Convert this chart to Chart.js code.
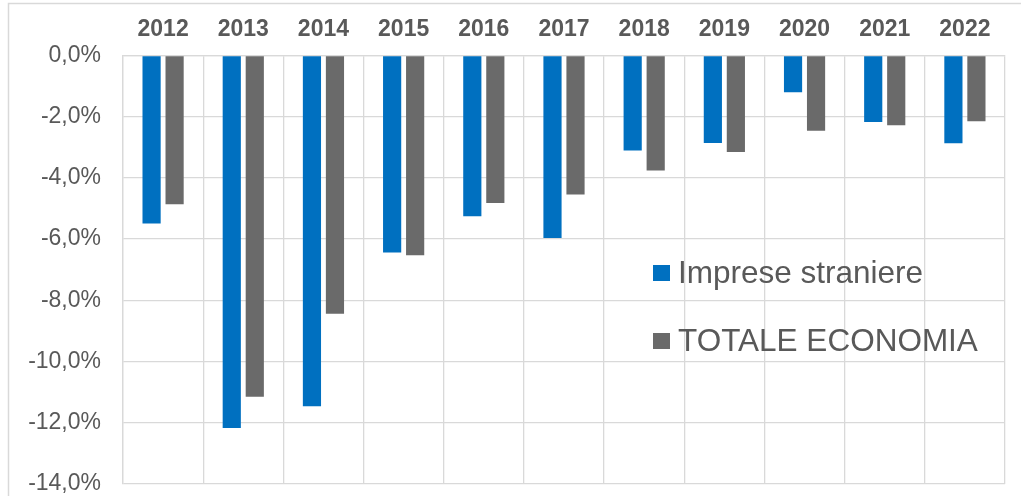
<!DOCTYPE html>
<html>
<head>
<meta charset="utf-8">
<script src="https://cdn.jsdelivr.net/npm/chart.js@4/dist/chart.umd.min.js"></script>
<style>
  html, body { margin: 0; padding: 0; background: #fff; }
  canvas { display: block; }
</style>
</head>
<body>
<canvas id="chart" width="1021" height="496"></canvas>
<script>
// data
const years = ["2012", "2013", "2014", "2015", "2016", "2017", "2018", "2019", "2020", "2021", "2022"]
const impreseStraniere = [-5.49, -12.17, -11.46, -6.44, -5.25, -5.96, -3.10, -2.86, -1.20, -2.17, -2.87]
const totaleEconomia = [-4.86, -11.15, -8.44, -6.53, -4.82, -4.54, -3.76, -3.15, -2.46, -2.28, -2.15]
const seriesNames = ["Imprese straniere", "TOTALE ECONOMIA"]
const yMin = -14
const yMax = 0
const yStep = 2

const gridColor = "#d9d9d9"
const textColor = "#595959"
const fontFamily = "'Liberation Sans', Arial, sans-serif"

// light frame round the whole chart (cut off on right/bottom in the reference)
const framePlugin = {
    id: "frame",
    beforeDraw(chart) {
        let ctx = chart.ctx
        ctx.save()
        ctx.strokeStyle = gridColor
        ctx.lineWidth = 1.5
        ctx.strokeRect(8.5, 3.5, chart.width + 20, chart.height + 20)
        ctx.restore()
    }
}

// legend sits inside the plot, right side
const innerLegend = {
    id: "innerLegend",
    afterDraw(chart) {
        let ctx = chart.ctx
        ctx.save()
        ctx.font = "31.5px " + fontFamily
        ctx.textBaseline = "middle"
        ctx.textAlign = "left"
        chart.data.datasets.forEach((ds, i) => {
            let cy = 273 + i * 68
            ctx.fillStyle = ds.backgroundColor
            ctx.fillRect(653, cy - 8, 17, 16)
            ctx.fillStyle = textColor
            ctx.fillText(ds.label, 678, cy + 1)
        })
        ctx.restore()
    }
}

let ctx = document.getElementById("chart").getContext("2d")
let chart = new Chart(ctx, {
    type: "bar",
    data: {
        labels: years,
        datasets: [{
            label: seriesNames[0],
            backgroundColor: "#0070c0",
            data: impreseStraniere
        },
        {
            label: seriesNames[1],
            backgroundColor: "#6a6a6a",
            data: totaleEconomia
        }]
    },
    options: {
        responsive: false,
        animation: false,
        layout: {
            padding: { top: 0, left: 0, right: 16, bottom: 12 }
        },
        categoryPercentage: 0.574,
        barPercentage: 0.79,
        plugins: {
            legend: { display: false },
            tooltip: { enabled: false }
        },
        scales: {
            x: {
                position: "top",
                grid: {
                    offset: true,
                    color: gridColor,
                    lineWidth: 1.3,
                    drawTicks: false
                },
                border: { color: gridColor, width: 1.3 },
                ticks: {
                    color: textColor,
                    padding: 12,
                    font: { family: fontFamily, size: 23, weight: "bold" }
                },
                afterFit(scale) {
                    scale.height = 55.5
                    scale.paddingLeft = 0
                    scale.paddingRight = 0
                }
            },
            y: {
                min: yMin,
                max: yMax,
                grid: {
                    color: gridColor,
                    lineWidth: 1.3,
                    drawTicks: false
                },
                border: { color: gridColor, width: 1.3 },
                ticks: {
                    stepSize: yStep,
                    color: textColor,
                    padding: 22,
                    font: { family: fontFamily, size: 23 },
                    callback: v => v.toFixed(1).replace(".", ",") + "%"
                },
                afterFit(scale) {
                    scale.width = 123
                    scale.paddingTop = 0
                    scale.paddingBottom = 0
                }
            }
        }
    },
    plugins: [framePlugin, innerLegend]
})
</script>
</body>
</html>
